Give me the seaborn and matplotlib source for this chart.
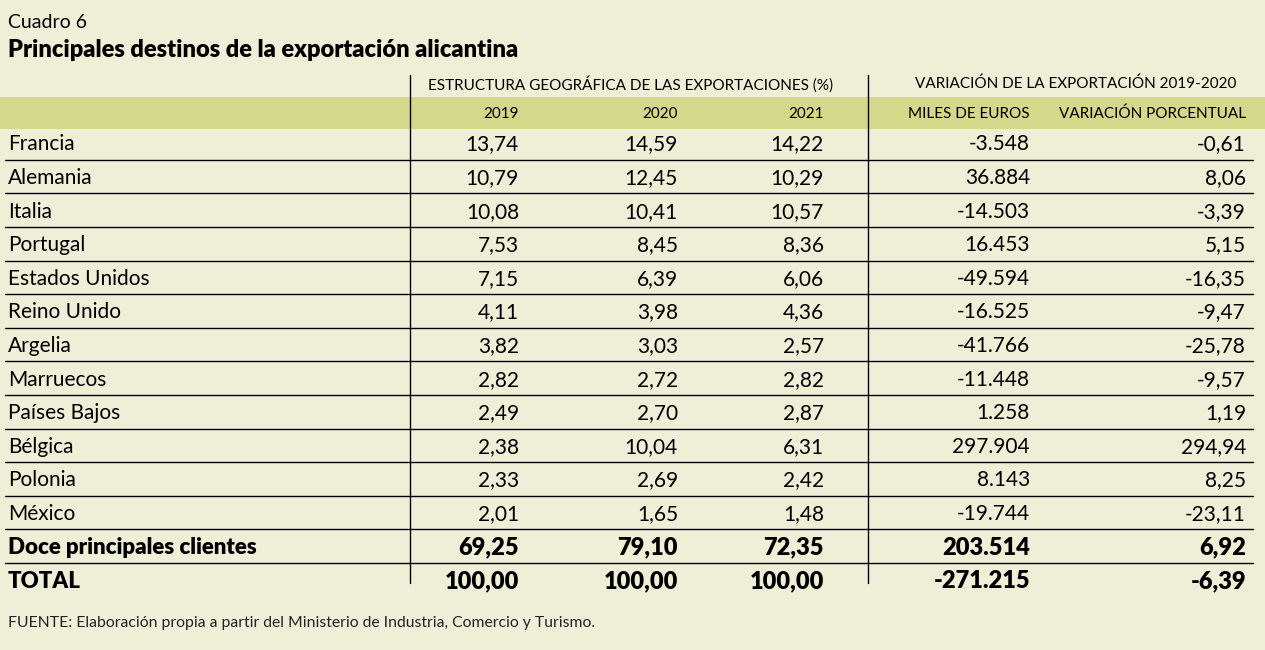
import matplotlib
matplotlib.use("Agg")
import matplotlib.pyplot as plt
import seaborn as sns
import pandas as pd

paises = ["Francia", "Alemania", "Italia", "Portugal", "Estados Unidos", "Reino Unido",
          "Argelia", "Marruecos", "Países Bajos", "Bélgica", "Polonia", "México",
          "Doce principales clientes", "TOTAL"]
cuota_2019 = ["13,74", "10,79", "10,08", "7,53", "7,15", "4,11", "3,82", "2,82", "2,49",
              "2,38", "2,33", "2,01", "69,25", "100,00"]
cuota_2020 = ["14,59", "12,45", "10,41", "8,45", "6,39", "3,98", "3,03", "2,72", "2,70",
              "10,04", "2,69", "1,65", "79,10", "100,00"]
cuota_2021 = ["14,22", "10,29", "10,57", "8,36", "6,06", "4,36", "2,57", "2,82", "2,87",
              "6,31", "2,42", "1,48", "72,35", "100,00"]
miles_euros = ["-3.548", "36.884", "-14.503", "16.453", "-49.594", "-16.525", "-41.766",
               "-11.448", "1.258", "297.904", "8.143", "-19.744", "203.514", "-271.215"]
var_pct = ["-0,61", "8,06", "-3,39", "5,15", "-16,35", "-9,47", "-25,78", "-9,57", "1,19",
           "294,94", "8,25", "-23,11", "6,92", "-6,39"]

col_labels = ["2019", "2020", "2021", "MILES DE EUROS", "VARIACIÓN PORCENTUAL"]
grupo_labels = ["ESTRUCTURA GEOGRÁFICA DE LAS EXPORTACIONES (%)",
                "VARIACIÓN DE LA EXPORTACIÓN 2019-2020"]

df = pd.DataFrame({"pais": paises, "2019": cuota_2019, "2020": cuota_2020,
                   "2021": cuota_2021, "miles": miles_euros, "pct": var_pct})

bg = "#EFEFD8"
band = "#D4D88A"

sns.set_style("white")
plt.rcParams["font.family"] = ["Lato", "DejaVu Sans"]
plt.rcParams["text.color"] = "black"

fig = plt.figure(figsize=(12.65, 6.5), dpi=100, facecolor=bg)
ax = fig.add_axes([0, 0, 1, 1])
ax.set_facecolor(bg)
ax.set_xlim(0, 1265)
ax.set_ylim(650, 0)
ax.axis("off")

# titles
ax.text(8, 23, "Cuadro 6", fontsize=14, va="center", ha="left")
ax.text(8, 50, "Principales destinos de la exportación alicantina", fontsize=17,
        fontweight="heavy", va="center", ha="left")

# header band
ax.axhspan(97, 129, color=band, lw=0)

# group headers
ax.text(631, 84, grupo_labels[0], fontsize=11, ha="center", va="center")
ax.text(1076, 84, grupo_labels[1], fontsize=11, ha="center", va="center")

col_x = [519, 678, 824, 1030, 1246]
for x, lab in zip(col_x, col_labels):
    ax.text(x, 114, lab, fontsize=11, ha="right", va="center")

# rows
row_h = 33.6
y0 = 144.5
cols = ["2019", "2020", "2021", "miles", "pct"]
for i, row in df.iterrows():
    y = y0 + i * row_h
    if i >= 12:
        ax.text(8, y, row["pais"], fontsize=16, ha="left", va="center", fontweight="heavy")
        for x, c in zip(col_x, cols):
            ax.text(x, y, row[c], fontsize=17, ha="right", va="center", fontweight="heavy")
    else:
        ax.text(8, y, row["pais"], fontsize=15, ha="left", va="center")
        for x, c in zip(col_x, cols):
            ax.text(x, y, row[c], fontsize=15, ha="right", va="center")
    if i < len(df) - 1:
        yl = y0 - 1.5 + i * row_h + row_h / 2
        ax.plot([5, 1253], [yl, yl], color="black", lw=1)

# vertical separators
for x in [410, 868]:
    ax.plot([x, x], [75, 583], color="black", lw=1)

ax.text(8, 623, "FUENTE: Elaboración propia a partir del Ministerio de Industria, Comercio y Turismo.",
        fontsize=11.3, ha="left", va="center", color="#222222")

fig.savefig("out.png", dpi=100, facecolor=bg)
